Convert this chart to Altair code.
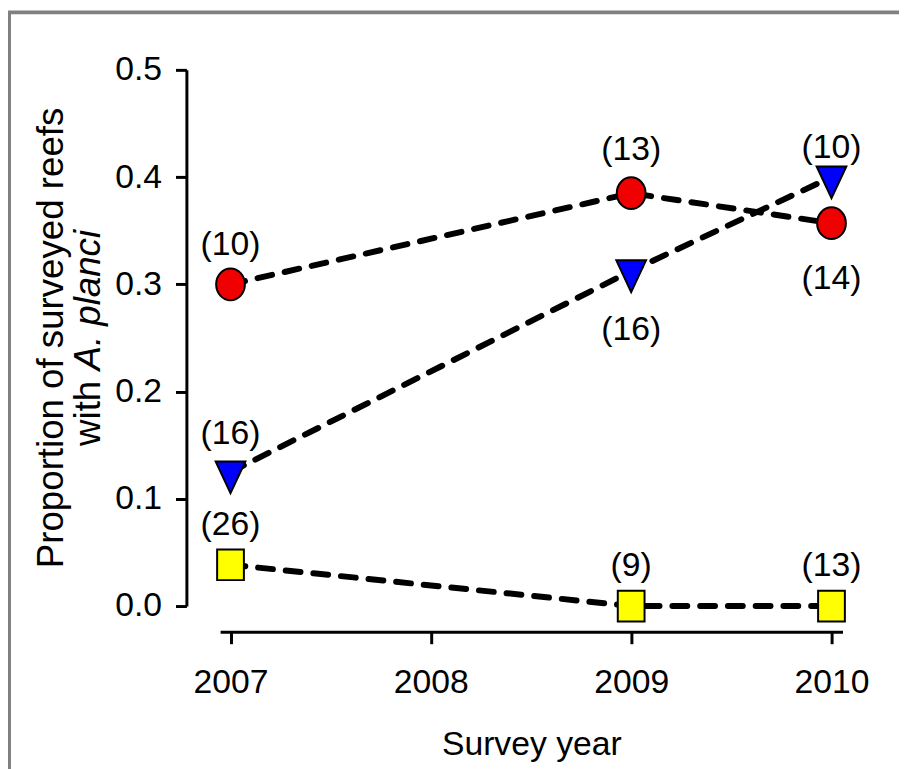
import altair as alt
import pandas as pd

# ---------------- data ----------------
years = [2007, 2009, 2010]
groups = ["red", "blue", "yellow"]
red_vals = [0.300, 0.385, 0.357]
blue_vals = [0.125, 0.3125, 0.400]
yellow_vals = [0.0385, 0.0, 0.0]
red_n = ["(10)", "(13)", "(14)"]
blue_n = ["(16)", "(16)", "(10)"]
yellow_n = ["(26)", "(9)", "(13)"]
x_ticks = [2007, 2008, 2009, 2010]
y_ticks = [0.0, 0.1, 0.2, 0.3, 0.4, 0.5]

# label offsets from marker in px (negative = above) -- styling
red_dy = [-40, -43, 56]
blue_dy = [-38, 60, -29]
yellow_dy = [-40, -40, -40]

W, H = 628, 541
FONT = "Liberation Sans, Arial"

rows = []
for g, vals, ns, dys in [("red", red_vals, red_n, red_dy),
                         ("blue", blue_vals, blue_n, blue_dy),
                         ("yellow", yellow_vals, yellow_n, yellow_dy)]:
    for yr, v, n, dy in zip(years, vals, ns, dys):
        rows.append({"year": yr, "value": v, "group": g, "n": n, "dy": dy})
df = pd.DataFrame(rows)

xscale = alt.Scale(domain=[2006.948, 2010.055], nice=False, zero=False)
yscale = alt.Scale(domain=[0, 0.5], nice=False, zero=False)

xaxis = alt.Axis(values=x_ticks, format="d", title="Survey year", offset=26, grid=False,
                 domainColor="black", domainWidth=3, tickColor="black", tickWidth=3, tickSize=12,
                 labelFont=FONT, labelFontSize=34, labelColor="black", labelPadding=22,
                 titleFont=FONT, titleFontSize=34, titleFontWeight="normal", titleColor="black",
                 titleBaseline="alphabetic", titleY=124)
yaxis = alt.Axis(values=y_ticks, format=".1f", title=None, offset=34, grid=False,
                 domainColor="black", domainWidth=3, tickColor="black", tickWidth=3, tickSize=11,
                 labelFont=FONT, labelFontSize=34, labelColor="black", labelPadding=14)

base = alt.Chart(df)

lines = base.mark_line(strokeDash=[15, 13], strokeWidth=6, strokeCap="round", color="black").encode(
    x=alt.X("year:Q", scale=xscale, axis=xaxis),
    y=alt.Y("value:Q", scale=yscale, axis=yaxis),
    detail="group:N",
)

circle_path = "M-0.967,0A0.967,1.067 0 1,1 0.967,0A0.967,1.067 0 1,1 -0.967,0Z"
tri_path = "M-1,-0.711L1,-0.711L0,1.422Z"
square_path = "M-0.9,-1.033L0.9,-1.033L0.9,1.033L-0.9,1.033Z"

points = base.mark_point(filled=True, opacity=1, fillOpacity=1, stroke="black", strokeWidth=2, size=900).encode(
    x=alt.X("year:Q", scale=xscale),
    y=alt.Y("value:Q", scale=yscale),
    shape=alt.Shape("group:N", scale=alt.Scale(domain=groups, range=[circle_path, tri_path, square_path]), legend=None),
    fill=alt.Fill("group:N", scale=alt.Scale(domain=groups, range=["#f00000", "#0000ff", "#ffff00"]), legend=None),
)

labels = base.transform_calculate(
    ly=f"datum.value - datum.dy * 0.5 / {H}"
).mark_text(font=FONT, fontSize=34, color="black", baseline="middle", align="center").encode(
    x=alt.X("year:Q", scale=xscale),
    y=alt.Y("ly:Q", scale=yscale),
    text="n:N",
)

one = pd.DataFrame({"k": [0]})
TS = 37
# y-axis title built from text marks (second line partly italic)
w_with = 2.056 * TS
w_tot = w_with + 3.835 * TS
start_y = H / 2 + w_tot / 2
t1 = alt.Chart(one).mark_text(text="Proportion of surveyed reefs", font=FONT, fontSize=TS, angle=270,
                              align="center", baseline="alphabetic", color="black").encode(
    x=alt.value(-159), y=alt.value(H / 2))
t2a = alt.Chart(one).mark_text(text="with ", font=FONT, fontSize=TS, angle=270,
                               align="left", baseline="alphabetic", color="black").encode(
    x=alt.value(-121), y=alt.value(start_y))
t2b = alt.Chart(one).mark_text(text="A. planci", font=FONT, fontSize=TS, fontStyle="italic", angle=270,
                               align="left", baseline="alphabetic", color="black").encode(
    x=alt.value(-121), y=alt.value(start_y - w_with))

frame_top = alt.Chart(one).mark_rule(color="#808080", strokeWidth=4).encode(
    x=alt.value(-214), x2=alt.value(W + 60), y=alt.value(-58))
frame_left = alt.Chart(one).mark_rule(color="#808080", strokeWidth=4).encode(
    x=alt.value(-213), y=alt.value(-59), y2=alt.value(H + 170))

chart = alt.layer(frame_top, frame_left, lines, points, labels, t1, t2a, t2b).properties(
    width=W, height=H,
    autosize=alt.AutoSizeParams(type="none"),
    padding={"left": 214, "top": 59, "right": 57, "bottom": 161},
    background="white",
).configure_view(stroke=None)

chart.save("out.html", embed_options={"renderer": "svg", "actions": False})
